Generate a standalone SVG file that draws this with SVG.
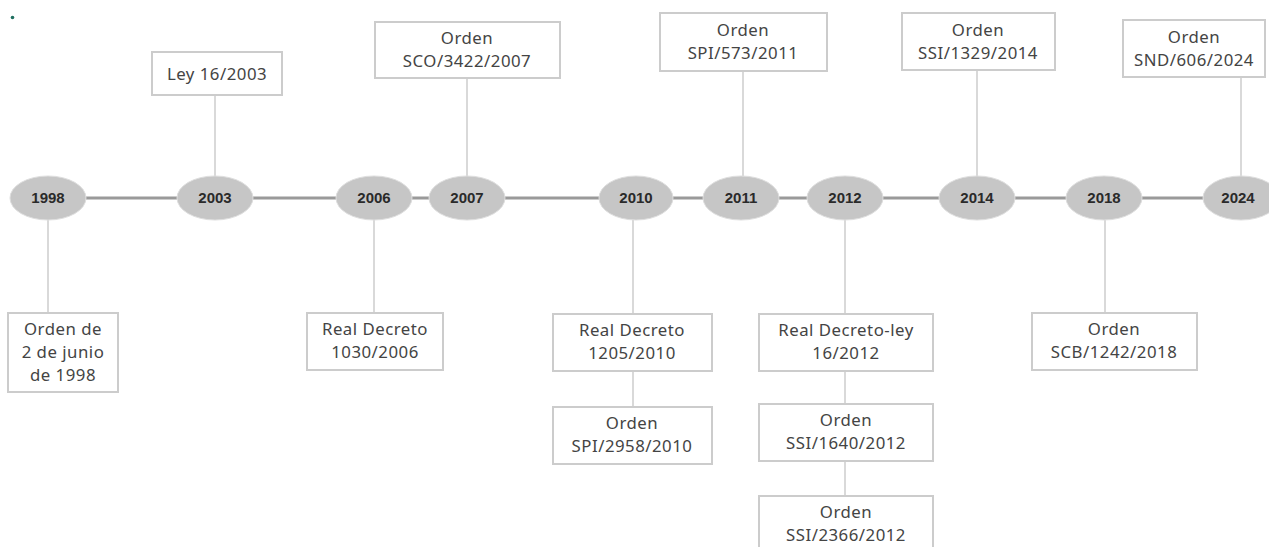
<svg xmlns="http://www.w3.org/2000/svg" width="1269" height="547" viewBox="0 0 1269 547">
<style>
.box{fill:#fff;stroke:#cccccc;stroke-width:2}
.lbl{font-family:"Noto Sans","Open Sans",sans-serif;font-size:16.8px;letter-spacing:0.5px;fill:#444;text-anchor:middle}
.yr{fill:#c6c6c6;stroke:#dedede;stroke-width:1}
.yt{font-family:"Liberation Sans","DejaVu Sans",sans-serif;font-weight:bold;font-size:15px;fill:#2a2a2a;text-anchor:middle}
.tl{stroke:#9a9a9a;stroke-width:3;fill:none}
.cn{stroke:#cccccc;stroke-width:1.5;fill:none}
</style>
<rect width="1269" height="547" fill="#fff"/>
<circle cx="12.5" cy="17.5" r="1.8" fill="#1f6f5f"/>
<g id="connectors">
<line class="tl" x1="86" y1="198" x2="1203" y2="198"/>
<line class="cn" x1="215" y1="95" x2="215" y2="176"/>
<line class="cn" x1="467" y1="78" x2="467" y2="176"/>
<line class="cn" x1="743" y1="71" x2="743" y2="176"/>
<line class="cn" x1="977" y1="70" x2="977" y2="176"/>
<line class="cn" x1="1241" y1="77" x2="1241" y2="176"/>
<line class="cn" x1="48" y1="220" x2="48" y2="313"/>
<line class="cn" x1="374" y1="220" x2="374" y2="313"/>
<line class="cn" x1="633" y1="220" x2="633" y2="314"/>
<line class="cn" x1="633" y1="371" x2="633" y2="407"/>
<line class="cn" x1="845" y1="220" x2="845" y2="314"/>
<line class="cn" x1="845" y1="371" x2="845" y2="404"/>
<line class="cn" x1="845" y1="461" x2="845" y2="496"/>
<line class="cn" x1="1105" y1="220" x2="1105" y2="313"/>
</g>
<g id="y1998"><ellipse class="yr" cx="48" cy="198" rx="38" ry="22"/><text class="yt" x="48" y="203">1998</text></g>
<g id="y2003"><ellipse class="yr" cx="215" cy="198" rx="38" ry="22"/><text class="yt" x="215" y="203">2003</text></g>
<g id="y2006"><ellipse class="yr" cx="374" cy="198" rx="38" ry="22"/><text class="yt" x="374" y="203">2006</text></g>
<g id="y2007"><ellipse class="yr" cx="467" cy="198" rx="38" ry="22"/><text class="yt" x="467" y="203">2007</text></g>
<g id="y2010"><ellipse class="yr" cx="636" cy="198" rx="37" ry="22"/><text class="yt" x="636" y="203">2010</text></g>
<g id="y2011"><ellipse class="yr" cx="741" cy="198" rx="38" ry="22"/><text class="yt" x="741" y="203">2011</text></g>
<g id="y2012"><ellipse class="yr" cx="845" cy="198" rx="38" ry="22"/><text class="yt" x="845" y="203">2012</text></g>
<g id="y2014"><ellipse class="yr" cx="977" cy="198" rx="38" ry="22"/><text class="yt" x="977" y="203">2014</text></g>
<g id="y2018"><ellipse class="yr" cx="1104" cy="198" rx="38" ry="22"/><text class="yt" x="1104" y="203">2018</text></g>
<g id="y2024"><ellipse class="yr" cx="1241" cy="198" rx="38" ry="22"/><text class="yt" x="1238" y="203">2024</text></g>
<g id="n2003"><rect class="box" x="152" y="52" width="130" height="43"/><text class="lbl" x="217" y="80">Ley 16/2003</text></g>
<g id="n2007"><rect class="box" x="375" y="22" width="185" height="56"/><text class="lbl" x="467" y="44">Orden</text><text class="lbl" x="467" y="67">SCO/3422/2007</text></g>
<g id="n2011"><rect class="box" x="660" y="13" width="167" height="58"/><text class="lbl" x="743" y="36">Orden</text><text class="lbl" x="743" y="59">SPI/573/2011</text></g>
<g id="n2014"><rect class="box" x="902" y="13" width="153" height="57"/><text class="lbl" x="978" y="36">Orden</text><text class="lbl" x="978" y="59">SSI/1329/2014</text></g>
<g id="n2024"><rect class="box" x="1123" y="20" width="142" height="57"/><text class="lbl" x="1194" y="43">Orden</text><text class="lbl" x="1194" y="66">SND/606/2024</text></g>
<g id="n1998"><rect class="box" x="8" y="313" width="110" height="79"/><text class="lbl" x="63" y="335">Orden de</text><text class="lbl" x="63" y="358">2 de junio</text><text class="lbl" x="63" y="381">de 1998</text></g>
<g id="n2006"><rect class="box" x="307" y="313" width="136" height="57"/><text class="lbl" x="375" y="335">Real Decreto</text><text class="lbl" x="375" y="358">1030/2006</text></g>
<g id="n2010a"><rect class="box" x="553" y="314" width="159" height="57"/><text class="lbl" x="632" y="336">Real Decreto</text><text class="lbl" x="632" y="359">1205/2010</text></g>
<g id="n2010b"><rect class="box" x="553" y="407" width="159" height="57"/><text class="lbl" x="632" y="429">Orden</text><text class="lbl" x="632" y="452">SPI/2958/2010</text></g>
<g id="n2012a"><rect class="box" x="759" y="314" width="174" height="57"/><text class="lbl" x="846" y="336">Real Decreto-ley</text><text class="lbl" x="846" y="359">16/2012</text></g>
<g id="n2012b"><rect class="box" x="759" y="404" width="174" height="57"/><text class="lbl" x="846" y="426">Orden</text><text class="lbl" x="846" y="449">SSI/1640/2012</text></g>
<g id="n2012c"><rect class="box" x="759" y="496" width="174" height="64"/><text class="lbl" x="846" y="518">Orden</text><text class="lbl" x="846" y="541">SSI/2366/2012</text></g>
<g id="n2018"><rect class="box" x="1032" y="313" width="165" height="57"/><text class="lbl" x="1114" y="335">Orden</text><text class="lbl" x="1114" y="358">SCB/1242/2018</text></g>
</svg>
